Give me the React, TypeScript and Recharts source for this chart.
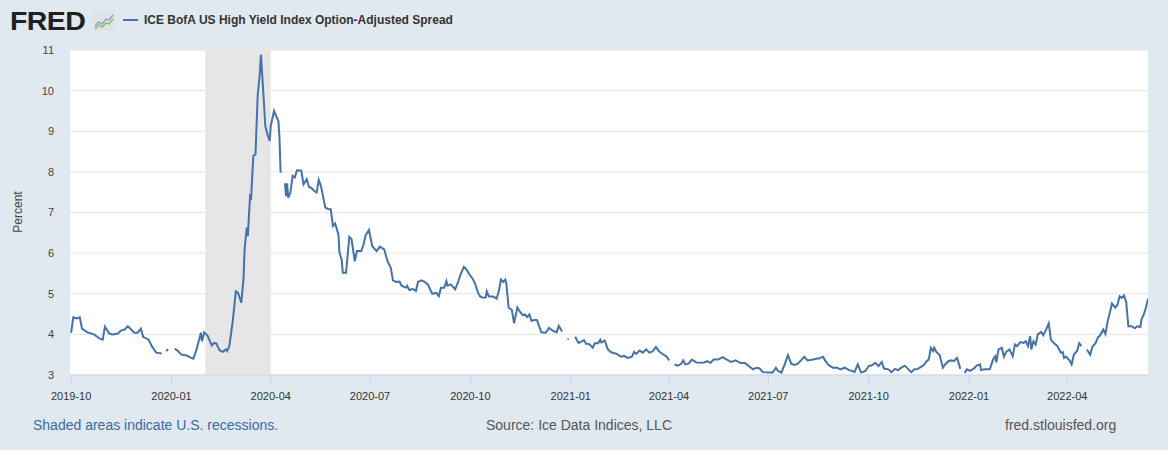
import React from 'react';
import { LineChart, Line, XAxis, YAxis, CartesianGrid, ReferenceArea } from 'recharts';

// ICE BofA US High Yield Index Option-Adjusted Spread, percent (null = no observation)
const obsDates = [
  '2019-10-01', '2019-10-03', '2019-10-06', '2019-10-09', '2019-10-11', '2019-10-16', '2019-10-22', '2019-10-27', '2019-10-30',
  '2019-11-01', '2019-11-05', '2019-11-08', '2019-11-13', '2019-11-16', '2019-11-19', '2019-11-22', '2019-11-25', '2019-11-28',
  '2019-12-01', '2019-12-04', '2019-12-06', '2019-12-11', '2019-12-14', '2019-12-18', '2019-12-23', '2019-12-25', '2019-12-27', '2019-12-29', '2019-12-31',
  '2020-01-04', '2020-01-07', '2020-01-10', '2020-01-15', '2020-01-19', '2020-01-21', '2020-01-24', '2020-01-28', '2020-01-29', '2020-01-31',
  '2020-02-03', '2020-02-07', '2020-02-09', '2020-02-11', '2020-02-14', '2020-02-17', '2020-02-20', '2020-02-21', '2020-02-23', '2020-02-26', '2020-02-29',
  '2020-03-02', '2020-03-05', '2020-03-07', '2020-03-08', '2020-03-10', '2020-03-11', '2020-03-13', '2020-03-14', '2020-03-16', '2020-03-18', '2020-03-20', '2020-03-22', '2020-03-23', '2020-03-25', '2020-03-27', '2020-03-29', '2020-03-31',
  '2020-04-01', '2020-04-04', '2020-04-06', '2020-04-08', '2020-04-09', '2020-04-10', '2020-04-12', '2020-04-14', '2020-04-15', '2020-04-16', '2020-04-17', '2020-04-19', '2020-04-21', '2020-04-23', '2020-04-25', '2020-04-29',
  '2020-05-01', '2020-05-04', '2020-05-06', '2020-05-08', '2020-05-11', '2020-05-13', '2020-05-15', '2020-05-17', '2020-05-21', '2020-05-24', '2020-05-26', '2020-05-28', '2020-05-30',
  '2020-06-02', '2020-06-03', '2020-06-05', '2020-06-06', '2020-06-09', '2020-06-12', '2020-06-14', '2020-06-17', '2020-06-19', '2020-06-23', '2020-06-25', '2020-06-27', '2020-06-30',
  '2020-07-03', '2020-07-07', '2020-07-10', '2020-07-14', '2020-07-17', '2020-07-20', '2020-07-22', '2020-07-25', '2020-07-28', '2020-07-30',
  '2020-08-03', '2020-08-04', '2020-08-06', '2020-08-09', '2020-08-12', '2020-08-14', '2020-08-17', '2020-08-20', '2020-08-23', '2020-08-25', '2020-08-27', '2020-08-31',
  '2020-09-02', '2020-09-04', '2020-09-07', '2020-09-09', '2020-09-10', '2020-09-13', '2020-09-17', '2020-09-20', '2020-09-22', '2020-09-25', '2020-09-27', '2020-09-30',
  '2020-10-03', '2020-10-05', '2020-10-08', '2020-10-10', '2020-10-13', '2020-10-15', '2020-10-16', '2020-10-18', '2020-10-22', '2020-10-25', '2020-10-27', '2020-10-29', '2020-10-31',
  '2020-11-02', '2020-11-03', '2020-11-05', '2020-11-08', '2020-11-10', '2020-11-13', '2020-11-15', '2020-11-18', '2020-11-20', '2020-11-22', '2020-11-24', '2020-11-26', '2020-11-29',
  '2020-12-01', '2020-12-03', '2020-12-05', '2020-12-09', '2020-12-12', '2020-12-15', '2020-12-19', '2020-12-21', '2020-12-24', '2020-12-26', '2020-12-29', '2020-12-30',
  '2021-01-01', '2021-01-05', '2021-01-08', '2021-01-11', '2021-01-13', '2021-01-15', '2021-01-18', '2021-01-21', '2021-01-23', '2021-01-26', '2021-01-28', '2021-01-29',
  '2021-02-01', '2021-02-04', '2021-02-07', '2021-02-12', '2021-02-16', '2021-02-19', '2021-02-22', '2021-02-26', '2021-02-28',
  '2021-03-02', '2021-03-05', '2021-03-08', '2021-03-11', '2021-03-14', '2021-03-17', '2021-03-20', '2021-03-23', '2021-03-27', '2021-03-30',
  '2021-04-01', '2021-04-03', '2021-04-06', '2021-04-09', '2021-04-12', '2021-04-14', '2021-04-16', '2021-04-19', '2021-04-22', '2021-04-26', '2021-04-29',
  '2021-05-03', '2021-05-06', '2021-05-09', '2021-05-12', '2021-05-16', '2021-05-20', '2021-05-24', '2021-05-28',
  '2021-06-01', '2021-06-05', '2021-06-10', '2021-06-13', '2021-06-17', '2021-06-20', '2021-06-23', '2021-06-26',
  '2021-07-01', '2021-07-05', '2021-07-08', '2021-07-10', '2021-07-13', '2021-07-16', '2021-07-19', '2021-07-22', '2021-07-25', '2021-07-28', '2021-07-31',
  '2021-08-03', '2021-08-06', '2021-08-11', '2021-08-14', '2021-08-17', '2021-08-20', '2021-08-22', '2021-08-25', '2021-08-29',
  '2021-09-02', '2021-09-05', '2021-09-09', '2021-09-13', '2021-09-16', '2021-09-18', '2021-09-21', '2021-09-24', '2021-09-28',
  '2021-10-01', '2021-10-04', '2021-10-07', '2021-10-10', '2021-10-13', '2021-10-15', '2021-10-19', '2021-10-22', '2021-10-25', '2021-10-28', '2021-10-31',
  '2021-11-03', '2021-11-06', '2021-11-09', '2021-11-12', '2021-11-15', '2021-11-18', '2021-11-21', '2021-11-23', '2021-11-25', '2021-11-27', '2021-11-29', '2021-11-30',
  '2021-12-02', '2021-12-05', '2021-12-08', '2021-12-10', '2021-12-13', '2021-12-16', '2021-12-18', '2021-12-21', '2021-12-24', '2021-12-26', '2021-12-28', '2021-12-30',
  '2022-01-02', '2022-01-05', '2022-01-08', '2022-01-11', '2022-01-12', '2022-01-15', '2022-01-20', '2022-01-23', '2022-01-25', '2022-01-26', '2022-01-28', '2022-01-31',
  '2022-02-02', '2022-02-04', '2022-02-07', '2022-02-10', '2022-02-12', '2022-02-14', '2022-02-17', '2022-02-20', '2022-02-22', '2022-02-24', '2022-02-26', '2022-02-27',
  '2022-03-01', '2022-03-03', '2022-03-05', '2022-03-08', '2022-03-10', '2022-03-13', '2022-03-15', '2022-03-17', '2022-03-20', '2022-03-23', '2022-03-26', '2022-03-28', '2022-03-29', '2022-03-31',
  '2022-04-03', '2022-04-05', '2022-04-07', '2022-04-10', '2022-04-12', '2022-04-14', '2022-04-16', '2022-04-19', '2022-04-22', '2022-04-24', '2022-04-27', '2022-04-29',
  '2022-05-01', '2022-05-04', '2022-05-06', '2022-05-08', '2022-05-10', '2022-05-12', '2022-05-15', '2022-05-17', '2022-05-19', '2022-05-21', '2022-05-23', '2022-05-25', '2022-05-27', '2022-05-30',
  '2022-06-02', '2022-06-04', '2022-06-07', '2022-06-08', '2022-06-10', '2022-06-12', '2022-06-14',
];

const spread = [
  4.04, 4.42, 4.39, 4.42, 4.14, 4.05, 4.0, 3.9, 3.87,
  4.19, 4.02, 4.0, 4.02, 4.1, 4.12, 4.2, 4.12, 4.04,
  4.04, 4.14, 3.94, 3.87, 3.71, 3.55, 3.53, null, 3.59, 3.63, null,
  3.65, 3.59, 3.5, 3.48, 3.42, 3.4, 3.63, 4.04, 3.83, 4.05,
  3.97, 3.73, 3.79, 3.78, 3.61, 3.57, 3.63, 3.59, 3.71, 4.29, 5.06,
  5.02, 4.78, 5.35, 6.09, 6.63, 6.42, 7.4, 7.36, 8.39, 8.43, 9.87, 10.44, 10.89, 10.03, 9.13, 8.92, 8.76,
  9.13, 9.5, 9.37, 9.25, 8.84, 7.98, null, 7.72, 7.4, 7.72, 7.36, 7.49, 7.9, 7.86, 8.04, 8.03,
  7.69, 7.82, 7.63, 7.61, 7.53, 7.49, 7.8, 7.65, 7.12, 7.08, 7.08, 6.67, 6.73,
  6.46, 6.01, 5.84, 5.52, 5.52, 6.4, 6.35, 5.8, 6.05, 6.05, 6.21, 6.44, 6.57,
  6.17, 6.05, 6.16, 6.09, 5.8, 5.64, 5.33, 5.29, 5.3, 5.19,
  5.15, 5.19, 5.09, 5.12, 5.07, 5.29, 5.33, 5.29, 5.23, 5.11, 5.0, 5.02,
  4.94, 5.15, 5.15, 5.31, 5.2, 5.23, 5.11, 5.31, 5.48, 5.66, 5.61, 5.48,
  5.37, 5.27, 5.02, 4.93, 4.9, 4.91, 5.06, 4.93, 4.93, 4.88, 5.06, 5.35, 5.29,
  5.35, 5.23, 4.66, 4.6, 4.27, 4.66, 4.57, 4.47, 4.49, 4.43, 4.49, 4.33, 4.36,
  4.35, 4.2, 4.05, 4.04, 4.16, 4.1, 4.05, 4.21, 4.07, null, 3.88, 3.89,
  null, 3.94, 3.79, 3.83, 3.86, 3.77, 3.76, 3.67, 3.78, 3.78, 3.87, 3.8,
  3.85, 3.63, 3.56, 3.52, 3.45, 3.47, 3.42, 3.45, 3.57,
  3.52, 3.6, 3.55, 3.63, 3.55, 3.58, 3.69, 3.58, 3.5, 3.45,
  3.36, null, 3.26, 3.23, 3.27, 3.36, 3.26, 3.28, 3.38, 3.31, 3.3,
  3.31, 3.34, 3.3, 3.38, 3.38, 3.44, 3.38, 3.32,
  3.36, 3.3, 3.29, 3.22, 3.14, 3.18, 3.16, 3.07,
  3.06, 3.06, 3.18, 3.1, 3.06, 3.26, 3.49, 3.28, 3.25, 3.28, 3.36,
  3.45, 3.36, 3.38, 3.4, 3.41, 3.45, 3.36, 3.25, 3.18,
  3.18, 3.14, 3.18, 3.12, 3.1, 3.07, 3.26, 3.06, 3.1,
  3.22, 3.24, 3.3, 3.22, 3.32, 3.16, 3.14, 3.07, 3.15, 3.12, 3.18,
  3.23, 3.15, 3.07, 3.14, 3.15, 3.2, 3.26, 3.34, 3.38, 3.67, 3.59, 3.67,
  3.57, 3.49, 3.18, 3.26, 3.34, 3.36, 3.34, 3.42, 3.15, null, 3.05, 3.14,
  3.1, 3.15, 3.23, 3.26, 3.12, 3.14, 3.14, 3.38, 3.46, 3.31, 3.63, 3.67,
  3.45, 3.57, 3.63, 3.46, 3.75, 3.71, 3.81, 3.79, 3.83, 3.71, 3.96, 3.63,
  3.83, 3.75, 4.0, 4.06, 3.98, 4.14, 4.27, 3.87, 3.78, 3.71, 3.55, 3.56, 3.42, 3.45,
  3.36, 3.26, 3.5, 3.59, 3.78, 3.71, null, 3.63, 3.5, 3.69, 3.79, 3.92,
  3.97, 4.12, 4.01, 4.32, 4.53, 4.76, 4.66, 4.73, 4.94, 4.9, 4.96, 4.8, 4.2, 4.2,
  4.15, 4.2, 4.18, 4.37, 4.48, 4.65, 4.88,
];

const xTickLabels = ['2019-10', '2020-01', '2020-04', '2020-07', '2020-10', '2021-01', '2021-04', '2021-07', '2021-10', '2022-01', '2022-04'];
const yTicks = [3, 4, 5, 6, 7, 8, 9, 10, 11];
const recession = ['2020-02-01', '2020-04-01'];

const toTime = (d: string) => Date.parse(d.length === 7 ? d + '-01' : d);

const data = obsDates.map((d, i) => ({ t: toTime(d), value: spread[i] }));
const xTicks = xTickLabels.map(toTime);
const xDomain = [toTime('2019-09-30'), toTime('2022-06-14')];

const FONT = '"Liberation Sans", Arial, Helvetica, sans-serif';
const LINE_COLOR = '#4572a7';

const FredIcon = () => (
  <svg width={22} height={20} style={{ position: 'absolute', left: 93, top: 11 }}>
    <rect x={0} y={0} width={22} height={20} rx={2} fill="#dfe3e6" />
    <polyline points="2,15 6,11 9,13 13,8 16,9 20,4" fill="none" stroke="#7ea2c9" strokeWidth={1.4} />
    <polyline points="2,18 6,14 9,16 13,12 16,13 20,8" fill="none" stroke="#8fb86a" strokeWidth={1.4} />
  </svg>
);

const App: React.FC = () => {
  return (
    <div
      style={{
        position: 'absolute',
        left: 0,
        top: 0,
        width: 1168,
        height: 450,
        background: '#e1e9f0',
        fontFamily: FONT,
        overflow: 'hidden',
      }}
    >
      {/* header: logo and legend */}
      <div
        style={{
          position: 'absolute',
          left: 10,
          top: 9,
          fontSize: 25,
          lineHeight: '25px',
          fontWeight: 900,
          color: '#231f20',
          transform: 'scaleX(1.14)',
          transformOrigin: 'left',
          letterSpacing: -0.5,
        }}
      >
        FRED
      </div>
      <FredIcon />
      <div style={{ position: 'absolute', left: 123, top: 19, width: 15, height: 2, background: LINE_COLOR }} />
      <div
        style={{
          position: 'absolute',
          left: 144,
          top: 14,
          fontSize: 12,
          lineHeight: '12px',
          fontWeight: 700,
          color: '#333',
          whiteSpace: 'nowrap',
        }}
      >
        ICE BofA US High Yield Index Option-Adjusted Spread
      </div>

      <LineChart
        width={1168}
        height={450}
        data={data}
        margin={{ top: 50, right: 20, bottom: 45, left: 0 }}
        style={{ position: 'absolute', left: 0, top: 0 }}
      >
        <CartesianGrid vertical={false} stroke="#e6e6e6" fill="#ffffff" />
        <XAxis
          dataKey="t"
          type="number"
          domain={xDomain}
          ticks={xTicks}
          allowDataOverflow
          height={30}
          tickFormatter={(t: number) => new Date(t).toISOString().slice(0, 7)}
          tick={{ fontSize: 11, fill: '#333', fontFamily: FONT }}
          axisLine={{ stroke: '#ccd6eb' }}
          tickLine={{ stroke: '#ccd6eb' }}
          tickSize={10}
          tickMargin={7}
        />
        <YAxis
          type="number"
          domain={[3, 11]}
          ticks={yTicks}
          width={70}
          axisLine={false}
          tickLine={false}
          tickSize={0}
          tickMargin={16}
          tick={{ fontSize: 11, fill: '#444', fontFamily: FONT }}
        />
        <ReferenceArea
          x1={toTime(recession[0])}
          x2={toTime(recession[1])}
          y1={3}
          y2={11}
          fill="#e6e6e6"
          fillOpacity={1}
          stroke="none"
        />
        <Line
          type="linear"
          dataKey="value"
          stroke={LINE_COLOR}
          strokeWidth={2}
          dot={false}
          connectNulls={false}
          isAnimationActive={false}
        />
      </LineChart>

      <div
        style={{
          position: 'absolute',
          left: 18,
          top: 212,
          fontSize: 12,
          color: '#444',
          transform: 'translate(-50%, -50%) rotate(-90deg)',
          whiteSpace: 'nowrap',
        }}
      >
        Percent
      </div>

      {/* footer notes */}
      <div style={{ position: 'absolute', left: 33, top: 418, fontSize: 14, lineHeight: '14px', color: '#3b69a0' }}>
        Shaded areas indicate U.S. recessions.
      </div>
      <div style={{ position: 'absolute', left: 486, top: 418, fontSize: 14, lineHeight: '14px', color: '#555' }}>
        Source: Ice Data Indices, LLC
      </div>
      <div style={{ position: 'absolute', left: 1005, top: 418, fontSize: 14, lineHeight: '14px', color: '#555' }}>
        fred.stlouisfed.org
      </div>
    </div>
  );
};

export default App;
